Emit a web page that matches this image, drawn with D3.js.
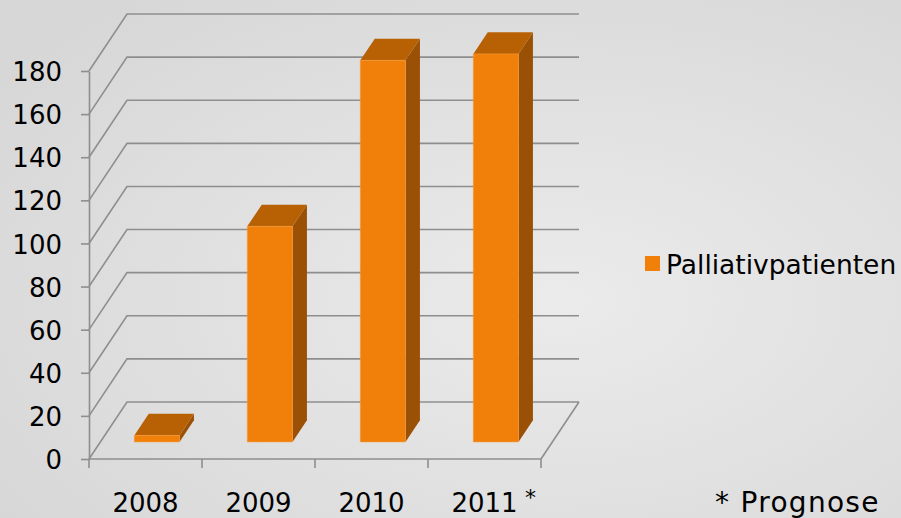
<!DOCTYPE html>
<html lang="de">
<head>
<meta charset="UTF-8">
<title>Palliativpatienten</title>
<style>
  html, body { margin: 0; padding: 0; }
  svg { display: block; font-family: "DejaVu Sans", Verdana, sans-serif; }
</style>
</head>
<body>
<svg id="chart" width="901" height="518"></svg>
<script src="https://d3js.org/d3.v7.min.js"></script>
<script>
// data
const years = ['2008', '2009', '2010', '2011'];
const patients = [3, 100, 177, 180];
const yTicks = [0, 20, 40, 60, 80, 100, 120, 140, 160, 180];
const seriesName = 'Palliativpatienten';
const footnote = '* Prognose';

const svg = d3.select('#chart');

// background: soft grey gradient
const defs = svg.append('defs');
const grad = defs.append('radialGradient')
  .attr('id', 'bg')
  .attr('cx', '62%').attr('cy', '58%').attr('r', '75%');
grad.append('stop').attr('offset', '0%').attr('stop-color', '#ebebeb');
grad.append('stop').attr('offset', '100%').attr('stop-color', '#d7d7d7');
svg.append('rect').attr('width', 901).attr('height', 518).attr('fill', 'url(#bg)');

// 3d geometry: front plane + depth offset
const x0 = 89, x1 = 541;
const depth = { dx: 38, dy: -57 };
const barFront = 0.3, barBack = 0.68;

const y = d3.scaleLinear().domain([0, 180]).range([459, 71]);
const x = d3.scaleBand().domain(years).range([x0, x1])
  .paddingInner(0.6).paddingOuter(0.3);
const step = x.step();

const shift = (px, py, d) => [px + depth.dx * d, py + depth.dy * d];

const gridColor = '#8e8e8e';

// walls: left diagonals + back horizontals
const grid = svg.append('g')
  .attr('fill', 'none')
  .attr('stroke', gridColor)
  .attr('stroke-width', 1.6);

grid.selectAll('path.wall')
  .data(yTicks)
  .join('path')
  .attr('class', 'wall')
  .attr('d', v => {
    const a = [x0, y(v)];
    const b = shift(x0, y(v), 1);
    return `M${a}L${b}L${x1 + depth.dx},${b[1]}`;
  });

// floor right edge
grid.append('path')
  .attr('d', () => {
    const b = shift(x1, y(0), 1);
    return `M${b}L${x1},${y(0)}`;
  });

// y axis
const yAxis = svg.append('g')
  .attr('transform', `translate(${x0},0)`)
  .call(d3.axisLeft(y).tickValues(yTicks).tickSize(8).tickSizeOuter(0).tickPadding(19));
yAxis.select('.domain').attr('stroke', gridColor).attr('stroke-width', 1.6);
yAxis.selectAll('.tick line').attr('stroke', gridColor).attr('stroke-width', 1.6);
yAxis.selectAll('.tick text')
  .attr('fill', '#000')
  .attr('dy', '0.37em')
  .style('font-size', '26px')
  .style('font-family', '"DejaVu Sans", Verdana, sans-serif');

// x axis: front floor edge, ticks at category boundaries
const xAxis = svg.append('g')
  .attr('stroke', gridColor)
  .attr('stroke-width', 1.6);
xAxis.append('line')
  .attr('x1', x0).attr('x2', x1)
  .attr('y1', y(0)).attr('y2', y(0));
xAxis.selectAll('line.tick')
  .data(d3.range(years.length + 1))
  .join('line')
  .attr('class', 'tick')
  .attr('x1', i => x0 + i * step).attr('x2', i => x0 + i * step)
  .attr('y1', y(0)).attr('y2', y(0) + 9);

svg.append('g')
  .selectAll('text')
  .data(years)
  .join('text')
  .attr('x', d => x(d) + x.bandwidth() / 2)
  .attr('y', 511.5)
  .attr('text-anchor', 'middle')
  .style('font-size', '26px')
  .text(d => d);

// asterisk on the forecast year
svg.append('text')
  .attr('x', x('2011') + x.bandwidth() / 2 + 46)
  .attr('y', 505)
  .attr('text-anchor', 'middle')
  .style('font-size', '22px')
  .text('*');

// bars
const colFront = '#f0800a', colTop = '#b86104', colSide = '#9a5106';
const bars = svg.append('g')
  .selectAll('g')
  .data(years.map((d, i) => ({ year: d, value: patients[i] })))
  .join('g');

const corners = d => {
  const xl = x(d.year), xr = x(d.year) + x.bandwidth();
  const yb = y(0), yt = y(d.value);
  return {
    fbl: shift(xl, yb, barFront), fbr: shift(xr, yb, barFront),
    ftl: shift(xl, yt, barFront), ftr: shift(xr, yt, barFront),
    bbr: shift(xr, yb, barBack),
    btl: shift(xl, yt, barBack), btr: shift(xr, yt, barBack)
  };
};

bars.append('path')
  .attr('fill', colSide)
  .attr('d', d => { const c = corners(d); return `M${c.ftr}L${c.btr}L${c.bbr}L${c.fbr}Z`; });
bars.append('path')
  .attr('fill', colTop)
  .attr('d', d => { const c = corners(d); return `M${c.ftl}L${c.ftr}L${c.btr}L${c.btl}Z`; });
bars.append('path')
  .attr('fill', colFront)
  .attr('stroke', '#f39a3c')
  .attr('stroke-width', 0.6)
  .attr('d', d => { const c = corners(d); return `M${c.fbl}L${c.fbr}L${c.ftr}L${c.ftl}Z`; });

// legend
const legend = svg.append('g').attr('transform', 'translate(645,256)');
legend.append('rect').attr('width', 15).attr('height', 15).attr('fill', colFront);
legend.append('text')
  .attr('x', 21).attr('y', 17.5)
  .style('font-size', '26.5px')
  .text(seriesName);

// footnote
svg.append('text')
  .attr('x', 715).attr('y', 511.5)
  .style('font-size', '28px')
  .style('letter-spacing', '1.3px')
  .text(footnote);
</script>
</body>
</html>
